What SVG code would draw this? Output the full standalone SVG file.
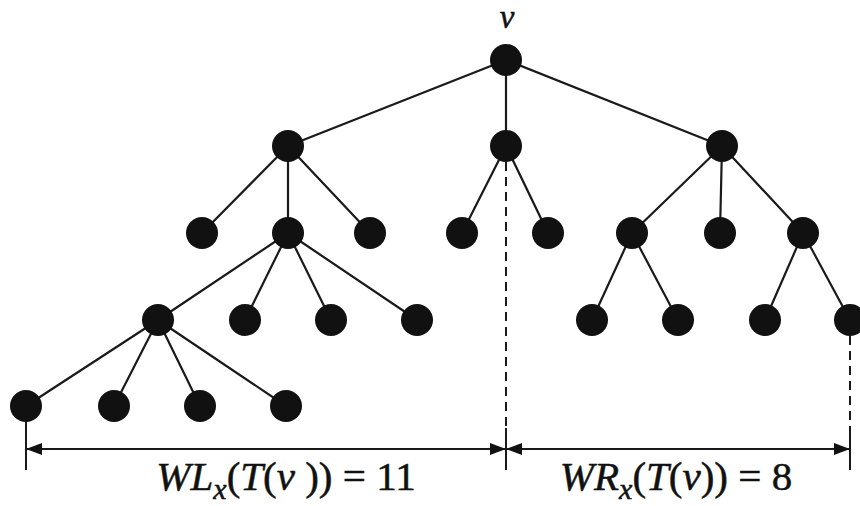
<svg xmlns="http://www.w3.org/2000/svg" width="860" height="506" viewBox="0 0 860 506">
<style>
.e{stroke:#1a1a1a;stroke-width:2.2;fill:none}
.d{stroke:#1a1a1a;stroke-width:2;stroke-dasharray:9,6;fill:none}
.t{stroke:#1a1a1a;stroke-width:2;fill:none}
.n{fill:#111}
.lbl{font-family:'Liberation Serif',serif;fill:#111;stroke:#111;stroke-width:0.5}
.i{font-style:italic}
</style>
<defs>
<marker id="ah" viewBox="0 0 16 12" refX="16" refY="6" markerWidth="16" markerHeight="12" markerUnits="userSpaceOnUse" orient="auto-start-reverse">
<path d="M0,0L16,6L0,12z" fill="#111"/>
</marker>
</defs>
<rect width="860" height="506" fill="#fff"/>
<g id="connectors">
<path class="e" d="M506,60L288,146M506,60L506,146M506,60L722,146"/>
<path class="e" d="M288,146L202,233M288,146L288,233M288,146L370,233"/>
<path class="e" d="M506,146L462,233M506,146L548,233"/>
<path class="e" d="M722,146L632,233M722,146L720,233M722,146L803,233"/>
<path class="e" d="M288,233L158,320M288,233L245,320M288,233L331,320M288,233L417,320"/>
<path class="e" d="M632,233L592,320M632,233L678,320"/>
<path class="e" d="M803,233L765,320M803,233L850,320"/>
<path class="e" d="M158,320L26,406M158,320L114,406M158,320L200,406M158,320L286,406"/>
<path class="d" d="M506,162L506,428M850,336L850,428"/>
<path class="t" d="M26,420L26,470M506,428L506,470M850,428L850,470"/>
<path class="t" d="M26,449L506,449" marker-start="url(#ah)" marker-end="url(#ah)"/>
<path class="t" d="M506,449L850,449" marker-start="url(#ah)" marker-end="url(#ah)"/>
</g>
<g id="n-root"><circle class="n" cx="506" cy="60" r="16"/></g>
<g id="n-a"><circle class="n" cx="288" cy="146" r="16"/></g>
<g id="n-b"><circle class="n" cx="506" cy="146" r="16"/></g>
<g id="n-c"><circle class="n" cx="722" cy="146" r="16"/></g>
<g id="n-a1"><circle class="n" cx="202" cy="233" r="16"/></g>
<g id="n-a2"><circle class="n" cx="288" cy="233" r="16"/></g>
<g id="n-a3"><circle class="n" cx="370" cy="233" r="16"/></g>
<g id="n-b1"><circle class="n" cx="462" cy="233" r="16"/></g>
<g id="n-b2"><circle class="n" cx="548" cy="233" r="16"/></g>
<g id="n-c1"><circle class="n" cx="632" cy="233" r="16"/></g>
<g id="n-c2"><circle class="n" cx="720" cy="233" r="16"/></g>
<g id="n-c3"><circle class="n" cx="803" cy="233" r="16"/></g>
<g id="n-a21"><circle class="n" cx="158" cy="320" r="16"/></g>
<g id="n-a22"><circle class="n" cx="245" cy="320" r="16"/></g>
<g id="n-a23"><circle class="n" cx="331" cy="320" r="16"/></g>
<g id="n-a24"><circle class="n" cx="417" cy="320" r="16"/></g>
<g id="n-c11"><circle class="n" cx="592" cy="320" r="16"/></g>
<g id="n-c12"><circle class="n" cx="678" cy="320" r="16"/></g>
<g id="n-c31"><circle class="n" cx="765" cy="320" r="16"/></g>
<g id="n-c32"><circle class="n" cx="850" cy="320" r="16"/></g>
<g id="n-l1"><circle class="n" cx="26" cy="406" r="16"/></g>
<g id="n-l2"><circle class="n" cx="114" cy="406" r="16"/></g>
<g id="n-l3"><circle class="n" cx="200" cy="406" r="16"/></g>
<g id="n-l4"><circle class="n" cx="286" cy="406" r="16"/></g>
<text class="lbl i" x="507" y="28" font-size="33" text-anchor="middle">v</text>
<text class="lbl" x="286" y="490" font-size="41" text-anchor="middle"><tspan class="i">WL</tspan><tspan class="i" font-size="30" dy="9">x</tspan><tspan dy="-9">(</tspan><tspan class="i">T</tspan>(<tspan class="i">v</tspan> )) = 11</text>
<text class="lbl" x="676" y="490" font-size="41" text-anchor="middle"><tspan class="i">WR</tspan><tspan class="i" font-size="30" dy="9">x</tspan><tspan dy="-9">(</tspan><tspan class="i">T</tspan>(<tspan class="i">v</tspan>)) = 8</text>
</svg>
